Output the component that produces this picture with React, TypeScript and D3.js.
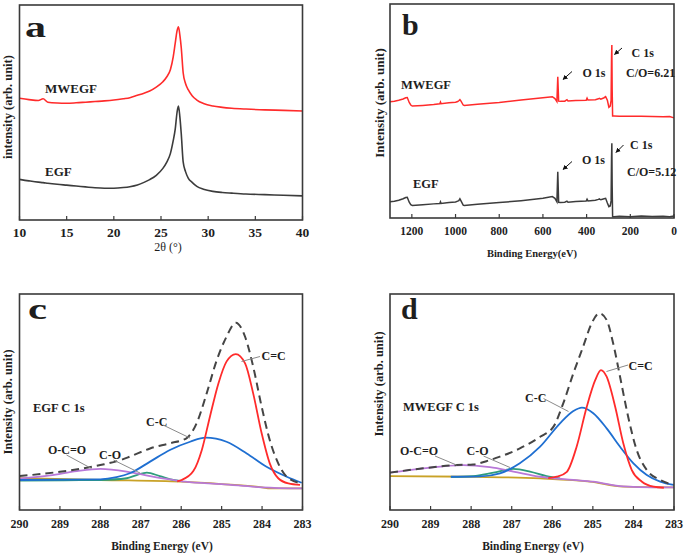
import React from 'react';
import * as d3 from 'd3';

const SERIF = '"Liberation Serif", "Times New Roman", serif';

// ---------- panel a : XRD ----------
const xrdTheta = [10, 11, 12, 12.5, 13, 14, 15, 16, 17, 18, 19, 20, 21, 21.7, 22.5, 23.2, 23.8, 24.5, 25.2, 25.6, 26, 26.3, 26.5, 26.7, 26.85, 27.0, 27.15, 27.35, 27.6, 27.9, 28.3, 28.8, 29.5, 30.5, 31.5, 32.5, 34, 36, 38, 40];
const xrdMWEGF = [56.6, 56.0, 55.6, 56.4, 54.8, 54.4, 54.3, 54.5, 54.8, 55.1, 55.4, 55.8, 56.4, 56.9, 58.0, 59.0, 60.0, 61.8, 64.3, 66.5, 70.0, 76.0, 82.0, 88.0, 89.9, 86.0, 80.0, 68.5, 63.5, 60.5, 57.8, 55.8, 54.2, 53.0, 52.4, 52.0, 51.6, 51.2, 51.0, 50.7];
const xrdEGF = [18.9, 18.2, 17.6, 17.4, 17.1, 16.6, 16.2, 15.8, 15.4, 15.0, 14.8, 14.8, 15.1, 15.5, 16.3, 17.5, 18.8, 20.8, 24.0, 26.8, 31.0, 37.0, 42.0, 50.0, 53.0, 48.0, 40.0, 27.0, 22.5, 19.4, 17.5, 15.6, 14.3, 13.3, 12.8, 12.5, 12.1, 11.8, 11.5, 11.2];
const xrdTicks = [10, 15, 20, 25, 30, 35, 40];

// ---------- panel b : XPS survey ----------
const surveyEnergy = [1300, 1280, 1260, 1240, 1228, 1221, 1212, 1205, 1198, 1150, 1100, 1072, 1069, 1066, 1030, 1000, 990, 985, 980, 975, 965, 960, 900, 800, 700, 600, 557, 545, 536, 532, 528, 520, 500, 490, 485, 450, 402, 398, 394, 360, 346, 342, 335, 320, 313, 305, 298, 292, 288, 286, 284.5, 283, 281, 275, 250, 200, 150, 100, 50, 20, 0];
const surveyMWEGF = [54.3, 54.6, 55.0, 55.6, 56.2, 56.3, 54.0, 52.8, 52.3, 52.6, 53.0, 53.4, 54.2, 53.4, 53.8, 54.1, 54.4, 54.8, 55.3, 54.6, 52.8, 52.6, 53.2, 54.0, 55.1, 56.2, 56.7, 55.8, 54.4, 66.0, 54.6, 54.5, 54.6, 55.3, 54.7, 54.9, 55.0, 56.0, 55.1, 55.3, 55.7, 55.9, 55.5, 56.2, 56.7, 55.0, 51.7, 52.3, 55.0, 75.0, 80.8, 60.0, 47.7, 47.7, 47.6, 47.5, 47.5, 47.4, 47.3, 47.4, 46.8];
const surveyEGF = [7.6, 7.8, 8.3, 9.0, 9.6, 9.7, 7.4, 6.2, 5.9, 6.2, 6.6, 6.8, 7.6, 6.8, 7.2, 7.5, 7.9, 8.1, 9.0, 8.0, 6.0, 5.9, 6.4, 7.2, 8.1, 9.2, 10.0, 9.2, 7.6, 21.6, 7.3, 7.2, 7.4, 7.9, 7.4, 7.7, 7.9, 8.8, 8.0, 8.3, 8.7, 8.9, 8.5, 9.0, 9.2, 7.0, 5.3, 5.6, 8.0, 28.0, 34.9, 15.0, 0.6, 0.6, 0.8, 0.6, 0.9, 0.7, 0.8, 0.6, 0.9];
const surveyTicks = [1200, 1000, 800, 600, 400, 200, 0];

// ---------- panels c, d : C 1s fits ----------
const c1sTicks = [290, 289, 288, 287, 286, 285, 284, 283];

const egfEnvelopeEv = [290, 289, 288, 287.5, 287.27, 286.77, 286.28, 285.87, 285.62, 285.37, 285.12, 284.88, 284.65, 284.42, 284.22, 284.01, 283.81, 283.6, 283.39, 283.02];
const egfEnvelope = [15.7, 17.7, 20.8, 23.1, 24.7, 28.5, 30.9, 33.2, 40.1, 54, 69.4, 80.2, 86.7, 80.2, 66.4, 47.8, 32.4, 21.6, 15.4, 12.3];
const egfCdCEv = [286.1, 285.99, 285.7, 285.49, 285.29, 285.08, 284.88, 284.65, 284.42, 284.22, 284.01, 283.81, 283.6, 283.35, 283.06];
const egfCdC = [13.3, 13.9, 18, 27.8, 43.2, 58.6, 68.7, 72.2, 67.9, 54, 35.5, 21.6, 14.7, 12.3, 11.6];
const egfCCEv = [290, 288, 287.6, 287.27, 286.77, 286.28, 285.78, 285.4, 284.88, 284.38, 283.89, 283.39, 283.02];
const egfCC = [13.9, 14.2, 15.2, 17, 22.4, 27.8, 31.6, 33.5, 31.6, 26.2, 20, 15.4, 12.6];
const egfCOEv = [290, 288.5, 288, 287.35, 287.1, 286.85, 286.53, 286.2, 286];
const egfCO = [13.6, 13.8, 13.9, 14.7, 16.2, 17.3, 15.7, 13.9, 13.4];
const egfOCOEv = [290, 289.24, 288.58, 288, 287.35, 286.77, 286.2, 285.9, 285, 284, 283];
const egfOCO = [14.5, 16, 18, 19, 17.8, 15.7, 13.9, 13.1, 12.0, 10.5, 10.0];
const egfBaseEv = [290, 288, 286, 285, 284, 283.8, 283];
const egfBase = [14.8, 13.9, 13.1, 12, 10.5, 10, 10];

const mwEnvelopeEv = [290, 289.18, 288.36, 287.95, 287.54, 287.29, 286.8, 286.3, 285.97, 285.73, 285.48, 285.24, 285.03, 284.84, 284.66, 284.5, 284.33, 284.13, 283.92, 283.67, 283.34, 283.01];
const mwEnvelope = [17.3, 19.3, 20.8, 21.1, 23.1, 24.7, 28.5, 33.9, 38.6, 49.4, 63.3, 75.6, 86.4, 91.1, 88, 77.2, 61.7, 43.2, 27.8, 18.5, 13.9, 11.6];
const mwCdCEv = [286.1, 285.89, 285.64, 285.4, 285.15, 284.94, 284.8, 284.66, 284.45, 284.25, 284.04, 283.79, 283.5, 283.25];
const mwCdC = [14.8, 15.4, 17.7, 29.3, 47.8, 60.2, 64.8, 61.7, 47.8, 30.9, 18.5, 13.1, 10.8, 10.3];
const mwCCEv = [288.5, 287.78, 287.29, 286.8, 286.3, 285.81, 285.48, 285.27, 284.99, 284.66, 284.33, 284.0, 283.67, 283.34, 283.01];
const mwCC = [15.4, 15.6, 17, 21.6, 29.3, 40.1, 45.8, 47.4, 44.8, 37.8, 29.3, 21.6, 16.2, 13.1, 11.6];
const mwCOEv = [288.5, 287.95, 287.45, 286.96, 286.55, 286.14, 285.81];
const mwCO = [15.3, 15.7, 17.3, 19, 17.8, 15.7, 14.6];
const mwOCOEv = [290, 289.18, 288.19, 287.54, 286.96, 286.3, 285.48, 285.0, 284.25, 283.5, 283.0];
const mwOCO = [17.3, 19.3, 20.8, 19.8, 17.8, 15.4, 13.9, 13.1, 10.9, 10.5, 10.5];
const mwBaseEv = [290, 287.95, 286.3, 285.07, 284.25, 283.0];
const mwBase = [15.7, 15.4, 14.6, 13.1, 10.8, 10.5];

const RED = '#ff2b2b';
const DARK = '#3c3c3c';
const BLUE = '#1f6fd1';
const GREEN = '#2e9c7c';
const PURPLE = '#b878d8';
const BASE = '#c9a227';
const TEXT = '#1e1e1e';

const zip = (xs: number[], ys: number[]) => xs.map((x, i) => [x, ys[i]] as [number, number]);

type Box = { x0: number; x1: number; y0: number; y1: number };

const Frame = ({ box }: { box: Box }) => (
  <rect x={box.x0} y={box.y0} width={box.x1 - box.x0} height={box.y1 - box.y0} fill="none" stroke="#3a3a3a" strokeWidth={1.6} />
);

const XTicks = ({ scale, ticks, box, labelY, fontSize }: any) => (
  <g>
    {ticks.map((t: number) => (
      <g key={t}>
        <line x1={scale(t)} x2={scale(t)} y1={box.y1} y2={box.y1 - 4} stroke="#3a3a3a" strokeWidth={1.2} />
        <text x={scale(t)} y={labelY} textAnchor="middle" fontFamily={SERIF} fontWeight="bold" fontSize={fontSize} fill={TEXT}>
          {t}
        </text>
      </g>
    ))}
  </g>
);

const YTitle = ({ x, y, text, size }: any) => (
  <text transform={`translate(${x},${y}) rotate(-90)`} textAnchor="middle" fontFamily={SERIF} fontWeight="bold" fontSize={size} fill={TEXT}>
    {text}
  </text>
);

const Label = ({ x, y, size = 12, children, anchor = 'start', weight = 'bold', len }: any) => (
  <text x={x} y={y} textAnchor={anchor} fontFamily={SERIF} fontWeight={weight} fontSize={size} fill={TEXT}
    textLength={len} lengthAdjust={len ? 'spacingAndGlyphs' : undefined}>
    {children}
  </text>
);

const Leader = ({ x1, y1, x2, y2 }: any) => <line x1={x1} y1={y1} x2={x2} y2={y2} stroke="#8a8a8a" strokeWidth={1} />;

const Arrow = ({ x1, y1, x2, y2 }: any) => <line x1={x1} y1={y1} x2={x2} y2={y2} stroke="#111" strokeWidth={1} markerEnd="url(#arrowHead)" />;

const boxA: Box = { x0: 19.5, x1: 302.5, y0: 5, y1: 220 };
const boxB: Box = { x0: 390, x1: 674, y0: 4, y1: 218 };
const boxC: Box = { x0: 19.5, x1: 302.5, y0: 294, y1: 510 };
const boxD: Box = { x0: 390, x1: 674, y0: 294, y1: 510 };

export default function App() {
  const xA = d3.scaleLinear().domain([10, 40]).range([boxA.x0, boxA.x1]);
  const yA = d3.scaleLinear().domain([0, 100]).range([boxA.y1, boxA.y0]);
  const xB = d3.scaleLinear().domain([1300, 0]).range([boxB.x0, boxB.x1]);
  const yB = d3.scaleLinear().domain([0, 100]).range([boxB.y1, boxB.y0]);
  const xC = d3.scaleLinear().domain([290, 283]).range([boxC.x0, boxC.x1]);
  const yC = d3.scaleLinear().domain([0, 100]).range([boxC.y1, boxC.y0]);
  const xD = d3.scaleLinear().domain([290, 283]).range([boxD.x0, boxD.x1]);
  const yD = d3.scaleLinear().domain([0, 100]).range([boxD.y1, boxD.y0]);

  const lineA = d3.line<[number, number]>().x((d) => xA(d[0])).y((d) => yA(d[1])).curve(d3.curveMonotoneX);
  const lineB = d3.line<[number, number]>().x((d) => xB(d[0])).y((d) => yB(d[1]));
  const lineC = d3.line<[number, number]>().x((d) => xC(d[0])).y((d) => yC(d[1])).curve(d3.curveMonotoneX);
  const lineD = d3.line<[number, number]>().x((d) => xD(d[0])).y((d) => yD(d[1])).curve(d3.curveMonotoneX);

  const fit = (gen: any, ev: number[], v: number[], color: string, dashed = false) => (
    <path d={gen(zip(ev, v)) || ''} fill="none" stroke={color} strokeWidth={dashed ? 2 : 1.8}
      strokeDasharray={dashed ? '8,5' : undefined} />
  );

  return (
    <div style={{ position: 'absolute', left: 0, top: 0 }}>
      <svg width={685} height={556} style={{ display: 'block', background: '#fff' }}>
        <defs>
          <marker id="arrowHead" viewBox="0 0 10 10" refX="9" refY="5" markerWidth="5" markerHeight="5" orient="auto">
            <path d="M0,0 L10,5 L0,10 z" fill="#111" />
          </marker>
        </defs>

        {/* ---- a ---- */}
        <path d={lineA(zip(xrdTheta, xrdMWEGF)) || ''} fill="none" stroke={RED} strokeWidth={1.6} />
        <path d={lineA(zip(xrdTheta, xrdEGF)) || ''} fill="none" stroke={DARK} strokeWidth={1.6} />
        <Frame box={boxA} />
        <XTicks scale={xA} ticks={xrdTicks} box={boxA} labelY={237} fontSize={13.5} />
        <Label x={168} y={251} size={12} anchor="middle" weight="normal">2θ (°)</Label>
        <YTitle x={12} y={107} text="intensity (arb. unit)" size={12.5} />
        <Label x={25} y={37} size={30} len={21}>a</Label>
        <Label x={45} y={93} size={13}>MWEGF</Label>
        <Label x={45} y={176} size={13}>EGF</Label>

        {/* ---- b ---- */}
        <path d={lineB(zip(surveyEnergy, surveyMWEGF)) || ''} fill="none" stroke={RED} strokeWidth={1.5} />
        <path d={lineB(zip(surveyEnergy, surveyEGF)) || ''} fill="none" stroke={DARK} strokeWidth={1.5} />
        <Frame box={boxB} />
        <XTicks scale={xB} ticks={surveyTicks} box={boxB} labelY={235} fontSize={11.5} />
        <Label x={532} y={257} size={10.5} anchor="middle">Binding Energy(eV)</Label>
        <YTitle x={384} y={103} text="Intensity (arb. unit)" size={13} />
        <Label x={402} y={35} size={30}>b</Label>
        <Label x={401} y={89} size={12.5}>MWEGF</Label>
        <Label x={413} y={188} size={12.5}>EGF</Label>
        <Label x={582.5} y={76.5} size={12}>O 1s</Label>
        <Label x={631.5} y={56.5} size={12}>C 1s</Label>
        <Label x={626} y={77} size={12}>C/O=6.21</Label>
        <Label x={582} y={164} size={12}>O 1s</Label>
        <Label x={630} y={149} size={12}>C 1s</Label>
        <Label x={627} y={176} size={12}>C/O=5.12</Label>
        <Arrow x1={572} y1={71.5} x2={563} y2={79.5} />
        <Arrow x1={622} y1={48} x2={614.5} y2={54.5} />
        <Arrow x1={572} y1={161.5} x2={563} y2={169.5} />
        <Arrow x1={623.5} y1={145} x2={616} y2={152.5} />

        {/* ---- c ---- */}
        {fit(lineC, egfBaseEv, egfBase, BASE)}
        {fit(lineC, egfCOEv, egfCO, GREEN)}
        {fit(lineC, egfOCOEv, egfOCO, PURPLE)}
        {fit(lineC, egfCCEv, egfCC, BLUE)}
        {fit(lineC, egfCdCEv, egfCdC, RED)}
        {fit(lineC, egfEnvelopeEv, egfEnvelope, '#454545', true)}
        <Frame box={boxC} />
        <XTicks scale={xC} ticks={c1sTicks} box={boxC} labelY={528} fontSize={12} />
        <Label x={162} y={550} size={11.5} anchor="middle">Binding Energy (eV)</Label>
        <YTitle x={12} y={402} text="Intensity (arb. unit)" size={12.5} />
        <Label x={28} y={319} size={30} len={19}>c</Label>
        <Label x={33} y={412} size={12.5}>EGF C 1s</Label>
        <Label x={261.5} y={360} size={12}>C=C</Label>
        <Label x={146} y={425.5} size={12}>C-C</Label>
        <Label x={48} y={453.5} size={12}>O-C=O</Label>
        <Label x={99} y={458.5} size={12}>C-O</Label>
        <Leader x1={241.5} y1={361.5} x2={260} y2={356.5} />
        <Leader x1={163} y1={425} x2={190} y2={438} />
        <Leader x1={66.5} y1={455} x2={91.5} y2={468.5} />
        <Leader x1={113.5} y1={460} x2={140} y2={473} />

        {/* ---- d ---- */}
        {fit(lineD, mwBaseEv, mwBase, BASE)}
        {fit(lineD, mwCOEv, mwCO, GREEN)}
        {fit(lineD, mwOCOEv, mwOCO, PURPLE)}
        {fit(lineD, mwCCEv, mwCC, BLUE)}
        {fit(lineD, mwCdCEv, mwCdC, RED)}
        {fit(lineD, mwEnvelopeEv, mwEnvelope, '#454545', true)}
        <Frame box={boxD} />
        <XTicks scale={xD} ticks={c1sTicks} box={boxD} labelY={528} fontSize={12} />
        <Label x={533} y={550} size={11.5} anchor="middle">Binding Energy (eV)</Label>
        <YTitle x={383} y={384} text="Intensity (arb. unit)" size={12.5} />
        <Label x={401} y={319} size={30}>d</Label>
        <Label x={403} y={411} size={12.5}>MWEGF C 1s</Label>
        <Label x={628.5} y={369.5} size={12}>C=C</Label>
        <Label x={525} y={402} size={12}>C-C</Label>
        <Label x={400} y={454.5} size={12}>O-C=O</Label>
        <Label x={466.5} y={454.5} size={12}>C-O</Label>
        <Leader x1={606.5} y1={371.5} x2={628} y2={365} />
        <Leader x1={543.5} y1={398.5} x2={568.5} y2={411.5} />
        <Leader x1={435} y1={456} x2={456.5} y2={465} />
        <Leader x1={483.5} y1={456} x2={510} y2={467.5} />
      </svg>
    </div>
  );
}
